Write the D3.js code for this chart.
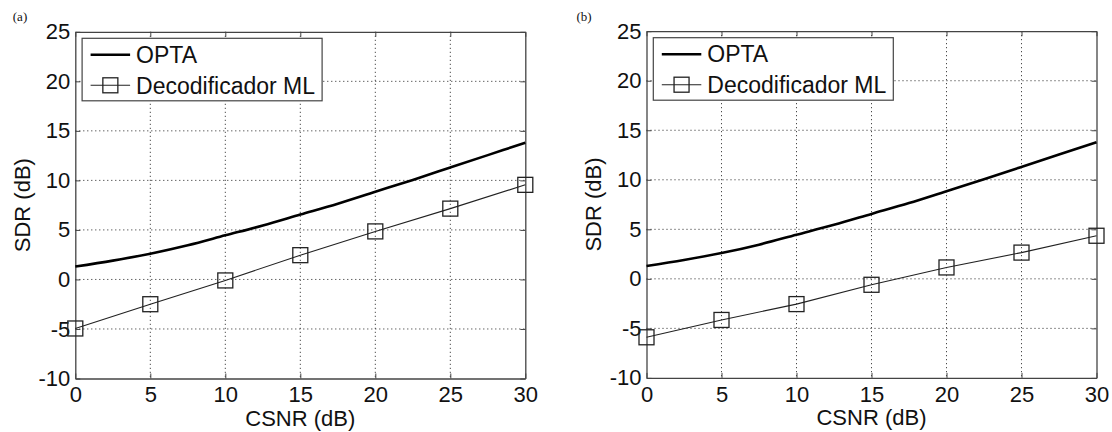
<!DOCTYPE html>
<html><head><meta charset="utf-8">
<script src="https://cdn.jsdelivr.net/npm/d3@7"></script>
<style>
html,body{margin:0;padding:0;background:#fff;}
svg{display:block;}
text{font-family:"Liberation Sans",Arial,sans-serif;fill:#111;}
</style></head>
<body>
<svg id="c" width="1112" height="432"></svg>
<script>
const xTicks = [0,5,10,15,20,25,30];
const yTicks = [-10,-5,0,5,10,15,20,25];
const optaX = [0,2.5,5,7.5,10,12.5,15,17.5,20,22.5,25,27.5,30];
const optaY = [1.3,1.9,2.6,3.45,4.45,5.45,6.55,7.65,8.85,10.05,11.3,12.55,13.8];
const mlX = [0,5,10,15,20,25,30];
const mlA = [-4.95,-2.5,-0.1,2.45,4.85,7.15,9.55];
const mlB = [-5.9,-4.15,-2.55,-0.6,1.15,2.65,4.35];
const panelLabels = ["(a)","(b)"];
const legendLabels = ["OPTA","Decodificador ML"];
const xLabel = "CSNR (dB)";
const yLabel = "SDR (dB)";

const svg = d3.select("#c");
const panels = [
  {left:75.3, top:31.8, ml:mlA, label:panelLabels[0], lx:20, ly:21},
  {left:646.5, top:31.2, ml:mlB, label:panelLabels[1], lx:584, ly:21}
];
const W = 450, H = 346.7;
const fmt = d => String(d);

panels.forEach(p => {
  const g = svg.append("g").attr("transform", `translate(${p.left},${p.top})`);
  const x = d3.scaleLinear().domain([0,30]).range([0,W]);
  const y = d3.scaleLinear().domain([-10,25]).range([H,0]);

  // grid
  g.append("g").selectAll("line").data(xTicks.slice(1,-1)).join("line")
    .attr("x1",d=>x(d)).attr("x2",d=>x(d)).attr("y1",0).attr("y2",H)
    .attr("stroke","#222").attr("stroke-width",1).attr("stroke-dasharray","1,3");
  g.append("g").selectAll("line").data(yTicks.slice(1,-1)).join("line")
    .attr("y1",d=>y(d)).attr("y2",d=>y(d)).attr("x1",0).attr("x2",W)
    .attr("stroke","#222").attr("stroke-width",1).attr("stroke-dasharray","1,3");

  // axes
  const ax = g.append("g").attr("transform",`translate(0,${H})`)
    .call(d3.axisBottom(x).tickValues(xTicks).tickFormat(fmt).tickSizeInner(-5).tickSizeOuter(0).tickPadding(8));
  const ay = g.append("g")
    .call(d3.axisLeft(y).tickValues(yTicks).tickFormat(fmt).tickSizeInner(-5).tickSizeOuter(0).tickPadding(5));
  const axT = g.append("g")
    .call(d3.axisTop(x).tickValues(xTicks).tickSizeInner(-5).tickSizeOuter(0).tickFormat(""));
  const ayR = g.append("g").attr("transform",`translate(${W},0)`)
    .call(d3.axisRight(y).tickValues(yTicks).tickSizeInner(-5).tickSizeOuter(0).tickFormat(""));
  [ax,ay,axT,ayR].forEach(a=>{
    a.selectAll("path").attr("stroke","#444").attr("stroke-width",1.3);
    a.selectAll("line").attr("stroke","#444").attr("stroke-width",1);
    a.selectAll("text").style("font-family","Liberation Sans, Arial, sans-serif")
      .style("font-size","22px").attr("fill","#111");
  });

  // OPTA line
  g.append("path").datum(optaX.map((v,i)=>[v,optaY[i]]))
    .attr("d", d3.line().x(d=>x(d[0])).y(d=>y(d[1])).curve(d3.curveCatmullRom))
    .attr("fill","none").attr("stroke","#000").attr("stroke-width",2.6);

  // ML line
  const mlData = mlX.map((v,i)=>[v,p.ml[i]]);
  g.append("path").datum(mlData)
    .attr("d", d3.line().x(d=>x(d[0])).y(d=>y(d[1])))
    .attr("fill","none").attr("stroke","#222").attr("stroke-width",1.1);
  const s = 15;
  g.append("g").selectAll("rect").data(mlData).join("rect")
    .attr("x",d=>x(d[0])-s/2).attr("y",d=>y(d[1])-s/2)
    .attr("width",s).attr("height",s)
    .attr("fill","none").attr("stroke","#222").attr("stroke-width",1.3);

  // axis labels
  g.append("text").attr("x",W/2).attr("y",H+47.5).attr("text-anchor","middle")
    .style("font-size","22px").text(xLabel);
  g.append("text").attr("transform",`translate(${-53},${H/2}) rotate(-90)`)
    .attr("text-anchor","middle").attr("dy","0.35em")
    .style("font-size","22px").text(yLabel);

  // legend
  const lg = g.append("g").attr("transform","translate(6.8,6.5)");
  lg.append("rect").attr("width",240).attr("height",62.5)
    .attr("fill","#fff").attr("stroke","#444").attr("stroke-width",1.2);
  lg.append("line").attr("x1",8.5).attr("x2",48).attr("y1",16.5).attr("y2",16.5)
    .attr("stroke","#000").attr("stroke-width",2.6);
  lg.append("text").attr("x",54).attr("y",16.5).attr("dy","0.36em")
    .style("font-size","23px").text(legendLabels[0]);
  lg.append("line").attr("x1",8.5).attr("x2",48).attr("y1",47).attr("y2",47)
    .attr("stroke","#222").attr("stroke-width",1.1);
  lg.append("rect").attr("x",28.25-s/2).attr("y",47-s/2).attr("width",s).attr("height",s)
    .attr("fill","none").attr("stroke","#222").attr("stroke-width",1.3);
  lg.append("text").attr("x",54).attr("y",47).attr("dy","0.36em")
    .style("font-size","23px").text(legendLabels[1]);

  // panel label
  svg.append("text").attr("x",p.lx).attr("y",p.ly).attr("text-anchor","middle")
    .style("font-family","Liberation Serif, serif").style("font-size","13px").text(p.label);
});
</script>
</body></html>
